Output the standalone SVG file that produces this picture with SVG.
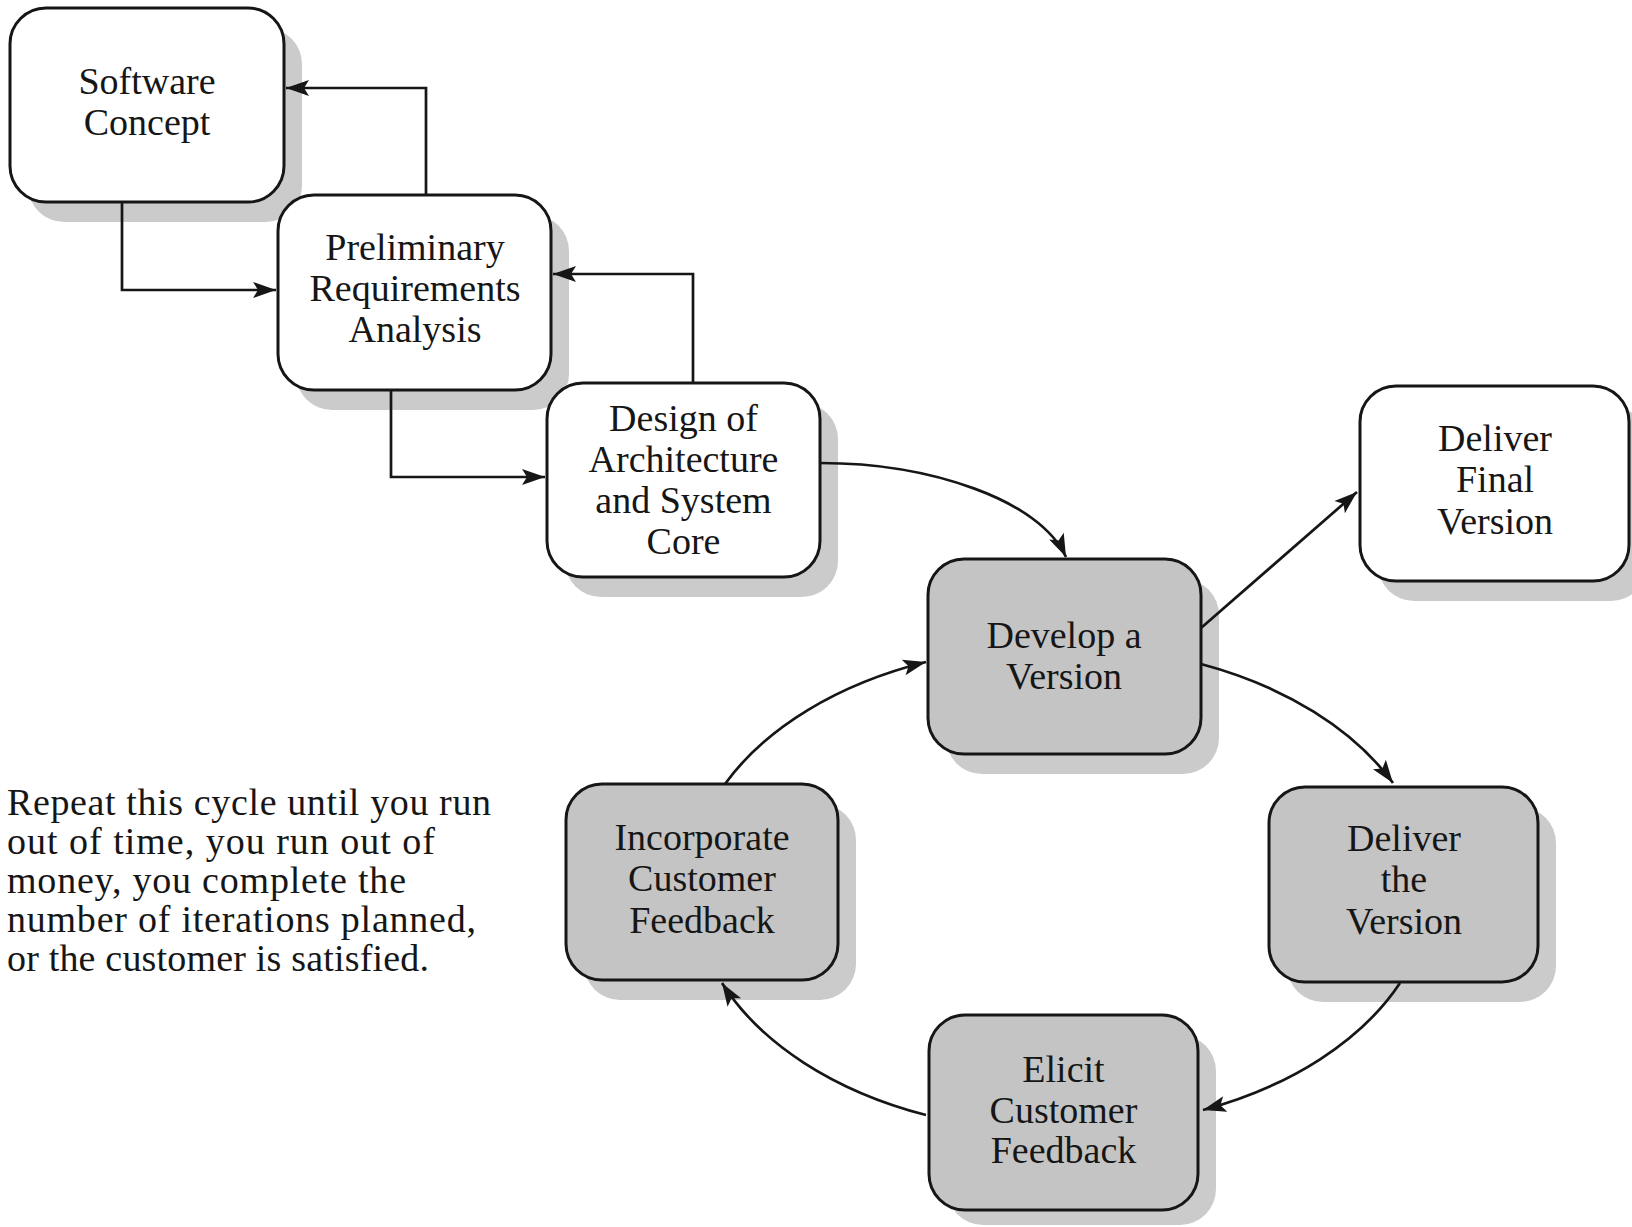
<svg xmlns="http://www.w3.org/2000/svg" width="1632" height="1227" viewBox="0 0 1632 1227">
  <style>
    .box { stroke: #161616; stroke-width: 3; }
    .plain { fill: #ffffff; }
    .shaded { fill: #c4c4c4; }
    .shadow { fill: #cbcbcb; stroke: none; }
    .label { font-family: "Liberation Serif", "Times New Roman", serif; font-size: 38px; fill: #161616; text-anchor: middle; }
    .note { font-family: "Liberation Serif", "Times New Roman", serif; font-size: 38px; fill: #161616; }
    .link { fill: none; stroke: #161616; stroke-width: 2.7; marker-end: url(#arrow); }
  </style>
  <defs>
    <marker id="arrow" viewBox="-24 -9 26 18" refX="0" refY="0" markerWidth="26" markerHeight="18" markerUnits="userSpaceOnUse" orient="auto">
      <path d="M0,0 L-23,-8 L-18,0 L-23,8 Z" fill="#161616"/>
    </marker>
  </defs>
  <rect width="1632" height="1227" fill="#ffffff"/>

  <!-- drop shadows -->
  <g id="shadows">
    <rect class="shadow" x="28" y="28" width="274" height="194" rx="36"/>
    <rect class="shadow" x="296" y="215" width="273" height="195" rx="36"/>
    <rect class="shadow" x="565" y="403" width="273" height="194" rx="36"/>
    <rect class="shadow" x="946" y="579" width="273" height="195" rx="36"/>
    <rect class="shadow" x="1378" y="406" width="269" height="195" rx="36"/>
    <rect class="shadow" x="584" y="804" width="272" height="196" rx="36"/>
    <rect class="shadow" x="1287" y="807" width="269" height="195" rx="36"/>
    <rect class="shadow" x="947" y="1035" width="269" height="190" rx="36"/>
  </g>

  <!-- connectors -->
  <g id="connectors">
    <path class="link" d="M426 195 V88 H286"/>
    <path class="link" d="M122 202 V290 H276"/>
    <path class="link" d="M693 383 V274 H553"/>
    <path class="link" d="M391 389 V477 H545"/>
    <path class="link" d="M820 463 C930 463 1040 500 1066 557"/>
    <path class="link" d="M1201 628 L1357 492"/>
    <path class="link" d="M1201 664 A365 243 0 0 1 1393 783"/>
    <path class="link" d="M1400 983 A365 243 0 0 1 1203 1110"/>
    <path class="link" d="M926 1115 A365 243 0 0 1 722 983"/>
    <path class="link" d="M725 784 A365 243 0 0 1 926 662"/>
  </g>

  <g id="software-concept">
    <rect class="box plain" x="10" y="8" width="274" height="194" rx="36"/>
    <text class="label"><tspan x="147" y="94">Software</tspan><tspan x="147" y="135">Concept</tspan></text>
  </g>

  <g id="preliminary-requirements">
    <rect class="box plain" x="278" y="195" width="273" height="195" rx="36"/>
    <text class="label"><tspan x="415" y="260">Preliminary</tspan><tspan x="415" y="301">Requirements</tspan><tspan x="415" y="342">Analysis</tspan></text>
  </g>

  <g id="architecture-design">
    <rect class="box plain" x="547" y="383" width="273" height="194" rx="36"/>
    <text class="label"><tspan x="683.5" y="431">Design of</tspan><tspan x="683.5" y="472">Architecture</tspan><tspan x="683.5" y="513">and System</tspan><tspan x="683.5" y="554">Core</tspan></text>
  </g>

  <g id="develop-version">
    <rect class="box shaded" x="928" y="559" width="273" height="195" rx="36"/>
    <text class="label"><tspan x="1064" y="648">Develop a</tspan><tspan x="1064" y="689">Version</tspan></text>
  </g>

  <g id="deliver-final">
    <rect class="box plain" x="1360" y="386" width="269" height="195" rx="36"/>
    <text class="label"><tspan x="1495" y="451">Deliver</tspan><tspan x="1495" y="492">Final</tspan><tspan x="1495" y="534">Version</tspan></text>
  </g>

  <g id="incorporate-feedback">
    <rect class="box shaded" x="566" y="784" width="272" height="196" rx="36"/>
    <text class="label"><tspan x="702" y="850">Incorporate</tspan><tspan x="702" y="891">Customer</tspan><tspan x="702" y="933">Feedback</tspan></text>
  </g>

  <g id="deliver-version">
    <rect class="box shaded" x="1269" y="787" width="269" height="195" rx="36"/>
    <text class="label"><tspan x="1404" y="851">Deliver</tspan><tspan x="1404" y="892">the</tspan><tspan x="1404" y="934">Version</tspan></text>
  </g>

  <g id="elicit-feedback">
    <rect class="box shaded" x="929" y="1015" width="269" height="195" rx="36"/>
    <text class="label"><tspan x="1063.5" y="1082">Elicit</tspan><tspan x="1063.5" y="1123">Customer</tspan><tspan x="1063.5" y="1163">Feedback</tspan></text>
  </g>

  <g id="cycle-note">
    <text class="note" x="7" y="815" textLength="484" lengthAdjust="spacing">Repeat this cycle until you run</text>
    <text class="note" x="7" y="854" textLength="428" lengthAdjust="spacing">out of time, you run out of</text>
    <text class="note" x="7" y="893" textLength="399" lengthAdjust="spacing">money, you complete the</text>
    <text class="note" x="7" y="932" textLength="469" lengthAdjust="spacing">number of iterations planned,</text>
    <text class="note" x="7" y="971" textLength="422" lengthAdjust="spacing">or the customer is satisfied.</text>
  </g>
</svg>
